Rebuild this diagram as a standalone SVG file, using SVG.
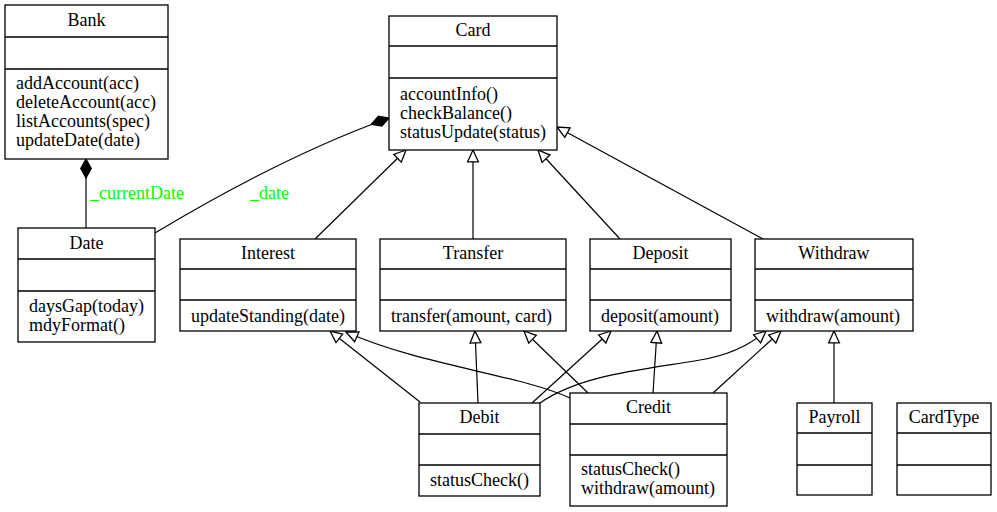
<svg xmlns="http://www.w3.org/2000/svg" width="997" height="512" viewBox="0 0 997 512" font-family="'Liberation Serif', 'DejaVu Serif', serif">
<style>
.box{fill:#fff;stroke:#000;stroke-width:1.3}
.div{stroke:#000;stroke-width:1.3}
text{font-family:'Liberation Serif','DejaVu Serif',serif;font-size:18px;fill:#000}
.c{text-anchor:middle}
.lbl{fill:#00ff00}
.e{fill:none;stroke:#000;stroke-width:1.2}
</style>
<defs>
<marker id="tri" markerUnits="userSpaceOnUse" markerWidth="14" markerHeight="14" viewBox="-12 -6 13 12" refX="0" refY="0" orient="auto">
<path d="M0,0 L-11,-5 L-11,5 Z" fill="#fff" stroke="#000" stroke-width="1.2"/>
</marker>
<marker id="dia" markerUnits="userSpaceOnUse" markerWidth="22" markerHeight="14" viewBox="-20 -6 21 12" refX="0" refY="0" orient="auto">
<path d="M0,0 L-9,-5 L-18,0 L-9,5 Z" fill="#000" stroke="#000" stroke-width="1.2"/>
</marker>
</defs>
<g id="connectors">
<path class="e" d="M86,228 L86,159" marker-end="url(#dia)"/>
<path class="e" d="M155,233 C210,200 300,150 389,118" marker-end="url(#dia)"/>
<path class="e" d="M315,239 L406,150" marker-end="url(#tri)"/>
<path class="e" d="M473,239 L473,150" marker-end="url(#tri)"/>
<path class="e" d="M620,239 L538,150" marker-end="url(#tri)"/>
<path class="e" d="M763,239 L557,127" marker-end="url(#tri)"/>
<path class="e" d="M420,402 L330,331" marker-end="url(#tri)"/>
<path class="e" d="M570,398 C520,375 420,365 346,332" marker-end="url(#tri)"/>
<path class="e" d="M478,403 L475,331" marker-end="url(#tri)"/>
<path class="e" d="M588,393 L524,331" marker-end="url(#tri)"/>
<path class="e" d="M532,403 L611,331" marker-end="url(#tri)"/>
<path class="e" d="M653,393 L657,331" marker-end="url(#tri)"/>
<path class="e" d="M540,403 C580,375 640,370 700,360 C730,355 750,345 766,331" marker-end="url(#tri)"/>
<path class="e" d="M713,393 L781,331" marker-end="url(#tri)"/>
<path class="e" d="M834,403 L834,331" marker-end="url(#tri)"/>
<text class="lbl" x="90" y="199">_currentDate</text>
<text class="lbl" x="250" y="199">_date</text>
</g>
<g id="Bank">
<rect class="box" x="5" y="5" width="163" height="154"/>
<line class="div" x1="5" y1="37" x2="168" y2="37"/>
<line class="div" x1="5" y1="69" x2="168" y2="69"/>
<text class="c" x="86.5" y="26">Bank</text>
<text x="16" y="89">addAccount(acc)</text>
<text x="16" y="108">deleteAccount(acc)</text>
<text x="16" y="127">listAccounts(spec)</text>
<text x="16" y="146">updateDate(date)</text>
</g>
<g id="Card">
<rect class="box" x="389" y="16" width="168" height="134"/>
<line class="div" x1="389" y1="46" x2="557" y2="46"/>
<line class="div" x1="389" y1="78" x2="557" y2="78"/>
<text class="c" x="473" y="36">Card</text>
<text x="400" y="100">accountInfo()</text>
<text x="400" y="119">checkBalance()</text>
<text x="400" y="138">statusUpdate(status)</text>
</g>
<g id="Date">
<rect class="box" x="18" y="228" width="137" height="114"/>
<line class="div" x1="18" y1="259" x2="155" y2="259"/>
<line class="div" x1="18" y1="291" x2="155" y2="291"/>
<text class="c" x="86.5" y="249">Date</text>
<text x="29" y="312">daysGap(today)</text>
<text x="29" y="331">mdyFormat()</text>
</g>
<g id="Interest">
<rect class="box" x="180" y="239" width="176" height="92"/>
<line class="div" x1="180" y1="269" x2="356" y2="269"/>
<line class="div" x1="180" y1="300" x2="356" y2="300"/>
<text class="c" x="268" y="259">Interest</text>
<text x="191" y="322">updateStanding(date)</text>
</g>
<g id="Transfer">
<rect class="box" x="380" y="239" width="186" height="92"/>
<line class="div" x1="380" y1="269" x2="566" y2="269"/>
<line class="div" x1="380" y1="300" x2="566" y2="300"/>
<text class="c" x="473" y="259">Transfer</text>
<text x="391" y="322">transfer(amount, card)</text>
</g>
<g id="Deposit">
<rect class="box" x="590" y="239" width="141" height="92"/>
<line class="div" x1="590" y1="269" x2="731" y2="269"/>
<line class="div" x1="590" y1="300" x2="731" y2="300"/>
<text class="c" x="660.5" y="259">Deposit</text>
<text x="601" y="322">deposit(amount)</text>
</g>
<g id="Withdraw">
<rect class="box" x="755" y="239" width="158" height="92"/>
<line class="div" x1="755" y1="269" x2="913" y2="269"/>
<line class="div" x1="755" y1="300" x2="913" y2="300"/>
<text class="c" x="834" y="259">Withdraw</text>
<text x="766" y="322">withdraw(amount)</text>
</g>
<g id="Debit">
<rect class="box" x="419" y="403" width="121" height="93"/>
<line class="div" x1="419" y1="434" x2="540" y2="434"/>
<line class="div" x1="419" y1="465" x2="540" y2="465"/>
<text class="c" x="479.5" y="423">Debit</text>
<text x="430" y="486">statusCheck()</text>
</g>
<g id="Credit">
<rect class="box" x="570" y="393" width="157" height="113"/>
<line class="div" x1="570" y1="424" x2="727" y2="424"/>
<line class="div" x1="570" y1="455" x2="727" y2="455"/>
<text class="c" x="648.5" y="413">Credit</text>
<text x="581" y="475">statusCheck()</text>
<text x="581" y="494">withdraw(amount)</text>
</g>
<g id="Payroll">
<rect class="box" x="797" y="403" width="75" height="92"/>
<line class="div" x1="797" y1="433" x2="872" y2="433"/>
<line class="div" x1="797" y1="465" x2="872" y2="465"/>
<text class="c" x="834.5" y="423">Payroll</text>
</g>
<g id="CardType">
<rect class="box" x="897" y="403" width="94" height="92"/>
<line class="div" x1="897" y1="433" x2="991" y2="433"/>
<line class="div" x1="897" y1="465" x2="991" y2="465"/>
<text class="c" x="944" y="423">CardType</text>
</g>
</svg>
